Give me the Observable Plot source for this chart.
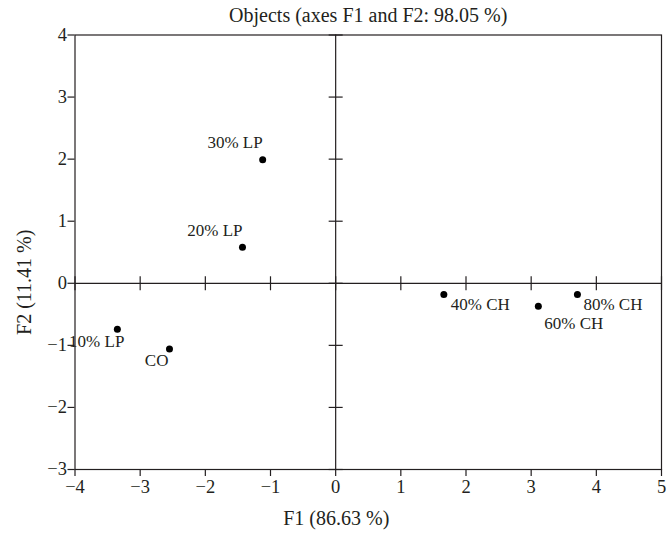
<!DOCTYPE html>
<html><head><meta charset="utf-8">
<script src="https://cdn.jsdelivr.net/npm/d3@7"></script>
<script src="https://cdn.jsdelivr.net/npm/@observablehq/plot@0.6"></script>
<style>body{margin:0;background:#fff}</style>
</head><body><div id="chart"></div>
<script>
const labels = ["CO", "10% LP", "20% LP", "30% LP", "40% CH", "60% CH", "80% CH"];
const f1 = [-2.55, -3.35, -1.43, -1.12, 1.66, 3.11, 3.71];
const f2 = [-1.06, -0.74, 0.58, 1.99, -0.18, -0.37, -0.18];
const xTicks = [-4, -3, -2, -1, 0, 1, 2, 3, 4, 5];
const yTicks = [-3, -2, -1, 0, 1, 2, 3, 4];
const title = "Objects (axes F1 and F2: 98.05 %)";
const xLabel = "F1 (86.63 %)";
const yLabel = "F2 (11.41 %)";

const points = labels.map((label, i) => ({label, f1: f1[i], f2: f2[i]}));

const vbar = {draw(ctx, size) { const r = Math.sqrt(size / Math.PI); ctx.moveTo(0, -r); ctx.lineTo(0, r); }};
const hbar = {draw(ctx, size) { const r = Math.sqrt(size / Math.PI); ctx.moveTo(-r, 0); ctx.lineTo(r, 0); }};

const font = 17;
const tickFont = 18.5;
const titleFont = 20;
const ink = "#231f20";
const lab = (name, anchor, dx, dy) => Plot.text(points, {
  filter: d => d.label === name, x: "f1", y: "f2", text: "label",
  textAnchor: anchor, dx, dy, fontSize: font, fill: ink
});

const chart = Plot.plot({
  width: 668,
  height: 533,
  marginLeft: 74.5,
  marginRight: 7,
  marginTop: 34.5,
  marginBottom: 64,
  style: {fontFamily: "'Liberation Serif', 'DejaVu Serif', serif", fontSize: font + "px", color: ink, background: "#fff"},
  x: {domain: [-4, 5], axis: null},
  y: {domain: [-3, 4], axis: null},
  marks: [
    Plot.frame({stroke: ink, strokeWidth: 1.2}),
    Plot.ruleX([0], {stroke: ink, strokeWidth: 1.2}),
    Plot.ruleY([0], {stroke: ink, strokeWidth: 1.2}),
    Plot.dot(xTicks, {x: d => d, y: 0, symbol: vbar, r: 7, stroke: ink, fill: "none", strokeWidth: 1.2}),
    Plot.dot(yTicks, {x: 0, y: d => d, symbol: hbar, r: 7, stroke: ink, fill: "none", strokeWidth: 1.2}),
    Plot.axisX(xTicks, {tickSize: 7, tickPadding: 3, label: null, fontSize: tickFont, tickFormat: d3.format("d"), stroke: ink, strokeWidth: 1.2}),
    Plot.axisY(yTicks, {tickSize: 7, tickPadding: 1, label: null, fontSize: tickFont, tickFormat: d3.format("d"), stroke: ink, strokeWidth: 1.2}),
    Plot.dot(points, {x: "f1", y: "f2", r: 3.5, fill: "#000", stroke: "none"}),
    lab("30% LP", "end", 0, -17),
    lab("20% LP", "end", 0, -17),
    lab("10% LP", "end", 7, 12),
    lab("CO", "end", -1, 11),
    lab("40% CH", "start", 7, 10),
    lab("80% CH", "start", 6, 10),
    lab("60% CH", "start", 6, 17),
    Plot.text([title], {text: d => d, frameAnchor: "top", dy: -27, fontSize: titleFont, fill: ink}),
    Plot.text([xLabel], {text: d => d, frameAnchor: "bottom", dx: -32, dy: 55, fontSize: titleFont, fill: ink}),
    Plot.text([yLabel], {text: d => d, frameAnchor: "left", textAnchor: "middle", dx: -50, dy: 30, rotate: -90, fontSize: titleFont, fill: ink})
  ]
});
document.getElementById("chart").appendChild(chart);
</script>
</body></html>
